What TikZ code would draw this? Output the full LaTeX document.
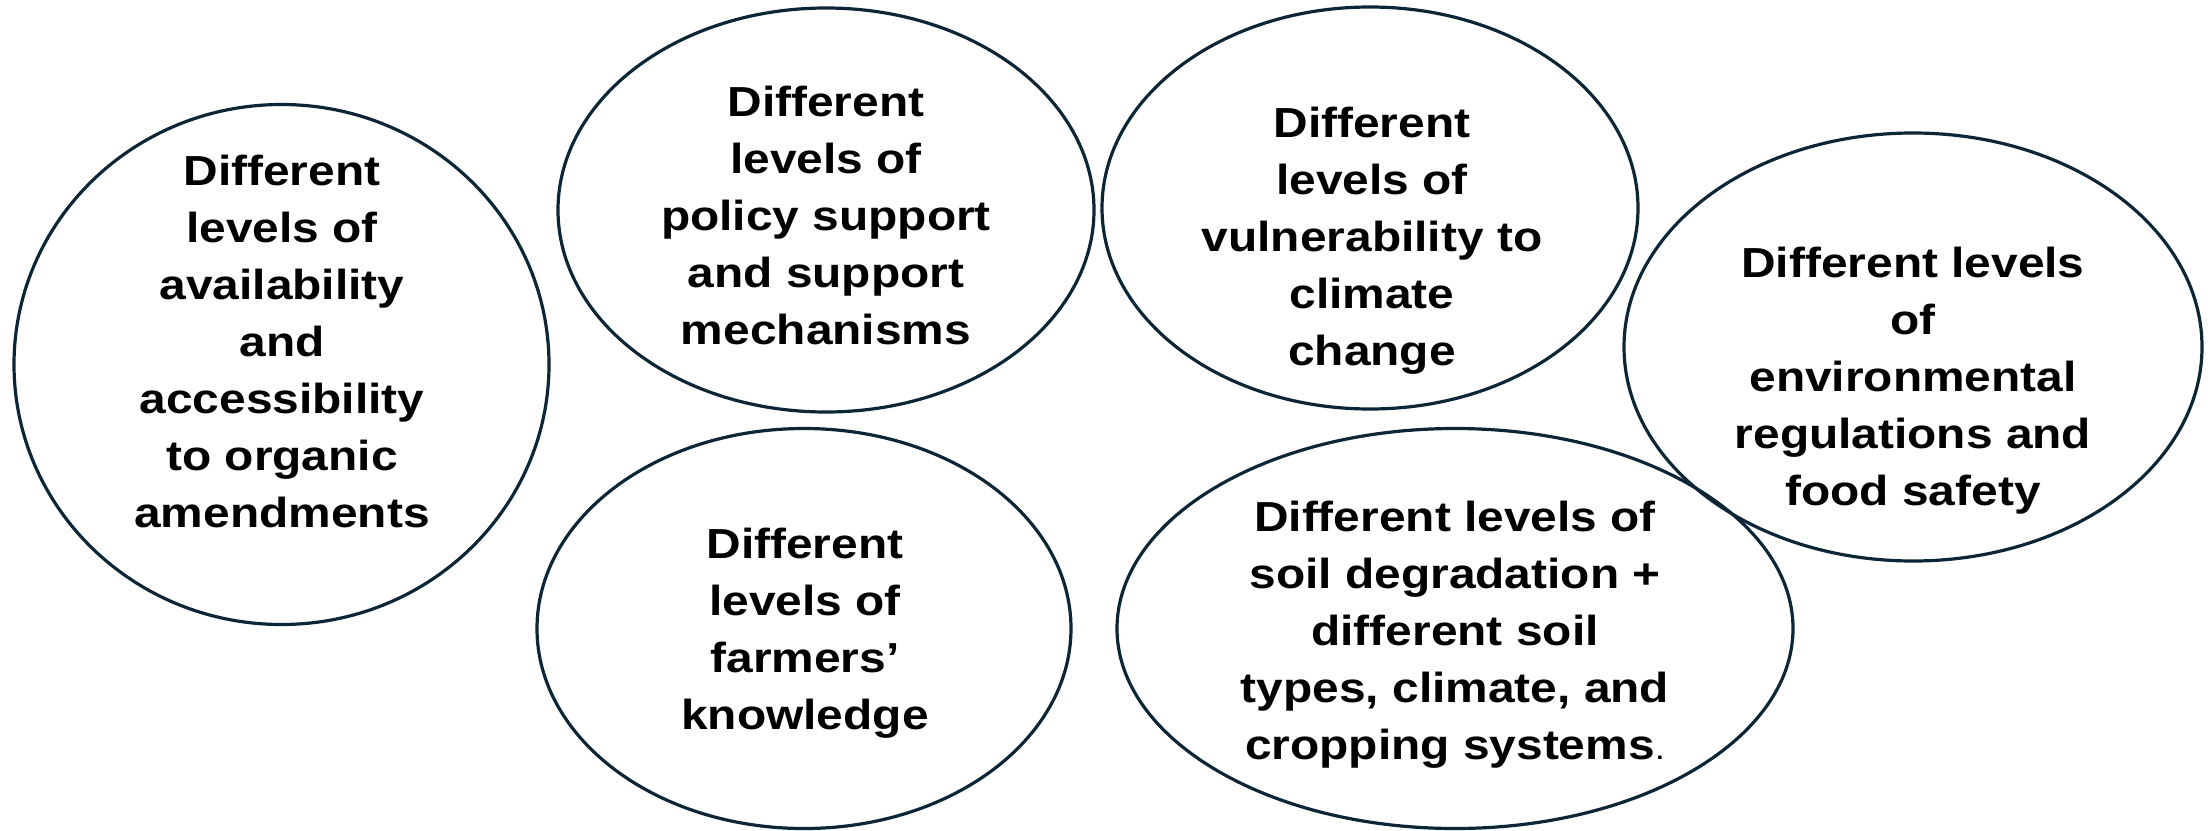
\documentclass[tikz,border=0pt]{standalone}
\usepackage{fontspec}
\setmainfont{Liberation Sans}[FakeStretch=1.14]
\usepackage{tikz}
\usetikzlibrary{shapes.geometric}
\definecolor{ovalline}{RGB}{12,38,54}

\begin{document}
\begin{tikzpicture}[x=0.5pt,y=-0.5pt]
                \tikzstyle{oval}=[ellipse, draw=ovalline, line width=1.6pt, inner sep=0pt]
                \tikzstyle{txt}=[align=center, inner sep=0pt, font=\fontsize{21pt}{28.5pt}\selectfont\bfseries]

                \useasboundingbox (0,0) rectangle (2211,830);

                \node[oval, minimum width=267.5pt, minimum height=260pt] (a) at (281.5,364.5) {};
                \node[oval, minimum width=268pt, minimum height=202pt] (b) at (826,210) {};
                \node[oval, minimum width=268pt, minimum height=201pt] (c) at (1370,208) {};
                \node[oval, minimum width=289pt, minimum height=214pt] (d) at (1913,347) {};
                \node[oval, minimum width=267pt, minimum height=200pt] (e) at (804,628.5) {};
                \node[oval, minimum width=338pt, minimum height=200pt] (f) at (1455,628.5) {};

                \node[txt] (ta) at (282,341) {Different\\levels of\\availability\\and\\accessibility\\to organic\\amendments};
                \node[txt] (tb) at (826,215) {Different\\levels of\\policy support\\and support\\mechanisms};
                \node[txt] (tc) at (1372,241) {Different\\levels of\\vulnerability to\\climate\\change};
                \node[txt] (td) at (1913,381) {Different levels\\of\\environmental\\regulations and\\food safety};
                \node[txt] (te) at (805,633) {Different\\levels of\\farmers’\\knowledge};
                \node[txt] (tf) at (1455,635) {Different levels of\\soil degradation +\\different soil\\types, climate, and\\cropping systems{\mdseries\fontsize{16pt}{28.5pt}\selectfont .}};
            \end{tikzpicture}
\end{document}
